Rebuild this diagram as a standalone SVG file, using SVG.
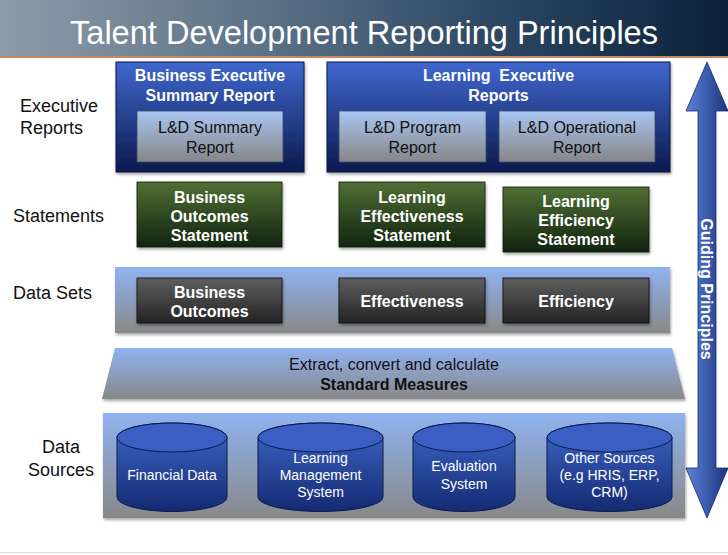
<svg xmlns="http://www.w3.org/2000/svg" width="728" height="555" viewBox="0 0 728 555">
<defs>
<linearGradient id="titleGrad" x1="0" y1="0" x2="1" y2="0">
<stop offset="0" stop-color="#8e9ca8"/><stop offset="0.35" stop-color="#5d7388"/><stop offset="0.7" stop-color="#2a4561"/><stop offset="1" stop-color="#0b2139"/>
</linearGradient>
<linearGradient id="execGrad" x1="0" y1="0" x2="0" y2="1">
<stop offset="0" stop-color="#3f67cd"/><stop offset="1" stop-color="#0c1a4e"/>
</linearGradient>
<linearGradient id="reportGrad" x1="0" y1="0" x2="0" y2="1">
<stop offset="0" stop-color="#aac5f3"/><stop offset="1" stop-color="#868686"/>
</linearGradient>
<linearGradient id="stmtGrad" x1="0" y1="0" x2="0" y2="1">
<stop offset="0" stop-color="#4f6f34"/><stop offset="1" stop-color="#132410"/>
</linearGradient>
<linearGradient id="bandGrad" x1="0" y1="0" x2="0" y2="1">
<stop offset="0" stop-color="#90b3f1"/><stop offset="1" stop-color="#888888"/>
</linearGradient>
<linearGradient id="dsGrad" x1="0" y1="0" x2="0" y2="1">
<stop offset="0" stop-color="#5f5f5f"/><stop offset="1" stop-color="#232323"/>
</linearGradient>
<linearGradient id="cylGrad" x1="0" y1="0" x2="0" y2="1">
<stop offset="0" stop-color="#3f67c8"/><stop offset="1" stop-color="#142a72"/>
</linearGradient>
<linearGradient id="arrowGrad" x1="0" y1="0" x2="1" y2="0">
<stop offset="0" stop-color="#5c82d9"/><stop offset="1" stop-color="#1a347f"/>
</linearGradient>
<filter id="shadow" x="-5%" y="-5%" width="115%" height="125%">
<feDropShadow dx="1" dy="2" stdDeviation="1.5" flood-color="#000" flood-opacity="0.35"/>
</filter>
<style>
text { font-family: "Liberation Sans", Arial, sans-serif; }
.lbl { font-size: 18px; fill: #111; }
.wb { font-size: 16px; font-weight: bold; fill: #fff; text-anchor: middle; }
.dk { font-size: 16px; fill: #111; text-anchor: middle; }
.dkb { font-size: 16px; font-weight: bold; fill: #111; text-anchor: middle; }
.cyl-t { font-size: 14px; fill: #fff; text-anchor: middle; }
.exec { fill: url(#execGrad); stroke: #0a1540; stroke-width: 1; filter: url(#shadow); }
.report { fill: url(#reportGrad); stroke: #3a4a6a; stroke-width: 0.8; }
.stmt { fill: url(#stmtGrad); stroke: #0f1a0a; stroke-width: 0.8; filter: url(#shadow); }
.band { fill: url(#bandGrad); filter: url(#shadow); }
.ds { fill: url(#dsGrad); stroke: #111; stroke-width: 0.8; filter: url(#shadow); }
.cyl { fill: url(#cylGrad); stroke: #0a1a4a; stroke-width: 1; }
.cyltop { fill: #3a5ec2; stroke: #0a1a4a; stroke-width: 1; }
</style>
</defs>

<rect x="0" y="0" width="728" height="555" fill="#ffffff"/>

<g id="title">
<rect x="0" y="0" width="728" height="56" fill="url(#titleGrad)"/>
<rect x="0" y="56" width="728" height="2" fill="#c8875c"/>
<text x="364" y="44" text-anchor="middle" font-size="33" fill="#ffffff" textLength="588" lengthAdjust="spacingAndGlyphs">Talent Development Reporting Principles</text>
</g>

<g id="row-labels">
<text class="lbl" x="20" y="112">Executive</text>
<text class="lbl" x="20" y="134">Reports</text>
<text class="lbl" x="13" y="222">Statements</text>
<text class="lbl" x="13" y="299">Data Sets</text>
<text class="lbl" x="61" y="453" text-anchor="middle">Data</text>
<text class="lbl" x="61" y="476" text-anchor="middle">Sources</text>
</g>

<g id="business-executive-summary">
<rect class="exec" x="116" y="62" width="188" height="110"/>
<text class="wb" x="210" y="81">Business Executive</text>
<text class="wb" x="210" y="101">Summary Report</text>
</g>
<g id="ld-summary-report">
<rect class="report" x="137" y="111" width="146" height="51"/>
<text class="dk" x="210" y="133">L&amp;D Summary</text>
<text class="dk" x="210" y="153">Report</text>
</g>

<g id="learning-executive-reports">
<rect class="exec" x="327" y="62" width="343" height="110"/>
<text class="wb" x="498.5" y="81" xml:space="preserve">Learning  Executive</text>
<text class="wb" x="498.5" y="101">Reports</text>
</g>
<g id="ld-program-report">
<rect class="report" x="339" y="111" width="147" height="51"/>
<text class="dk" x="412.5" y="133">L&amp;D Program</text>
<text class="dk" x="412.5" y="153">Report</text>
</g>
<g id="ld-operational-report">
<rect class="report" x="499" y="111" width="156" height="51"/>
<text class="dk" x="577" y="133">L&amp;D Operational</text>
<text class="dk" x="577" y="153">Report</text>
</g>

<g id="business-outcomes-statement">
<rect class="stmt" x="137" y="182" width="145" height="65"/>
<text class="wb" x="209.5" y="203">Business</text>
<text class="wb" x="209.5" y="222">Outcomes</text>
<text class="wb" x="209.5" y="241">Statement</text>
</g>
<g id="learning-effectiveness-statement">
<rect class="stmt" x="339" y="182" width="146" height="65"/>
<text class="wb" x="412" y="203">Learning</text>
<text class="wb" x="412" y="222">Effectiveness</text>
<text class="wb" x="412" y="241">Statement</text>
</g>
<g id="learning-efficiency-statement">
<rect class="stmt" x="503" y="187" width="146" height="65"/>
<text class="wb" x="576" y="207">Learning</text>
<text class="wb" x="576" y="226">Efficiency</text>
<text class="wb" x="576" y="245">Statement</text>
</g>

<g id="data-sets">
<rect class="band" x="115" y="267" width="555" height="66"/>
</g>
<g id="business-outcomes">
<rect class="ds" x="137" y="278" width="145" height="45"/>
<text class="wb" x="209.5" y="298">Business</text>
<text class="wb" x="209.5" y="317">Outcomes</text>
</g>
<g id="effectiveness">
<rect class="ds" x="339" y="278" width="146" height="45"/>
<text class="wb" x="412" y="307">Effectiveness</text>
</g>
<g id="efficiency">
<rect class="ds" x="503" y="278" width="146" height="45"/>
<text class="wb" x="576" y="307">Efficiency</text>
</g>

<g id="standard-measures">
<polygon class="band" points="115,348 672,348 685,399 102,399"/>
<text class="dk" x="394" y="370">Extract, convert and calculate</text>
<text class="dkb" x="394" y="390">Standard Measures</text>
</g>

<g id="data-sources">
<rect class="band" x="103" y="413" width="582" height="105"/>
</g>
<g id="financial-data">
<path class="cyl" d="M117,437.5 A55,14.5 0 0 1 227,437.5 L227,497 A55,14.5 0 0 1 117,497 Z"/>
<ellipse class="cyltop" cx="172" cy="437.5" rx="55" ry="14.5"/>
<text class="cyl-t" x="172" y="480">Financial Data</text>
</g>
<g id="learning-management-system">
<path class="cyl" d="M258,437.5 A62.5,14.5 0 0 1 383,437.5 L383,497 A62.5,14.5 0 0 1 258,497 Z"/>
<ellipse class="cyltop" cx="320.5" cy="437.5" rx="62.5" ry="14.5"/>
<text class="cyl-t" x="320.5" y="463">Learning</text>
<text class="cyl-t" x="320.5" y="480">Management</text>
<text class="cyl-t" x="320.5" y="497">System</text>
</g>
<g id="evaluation-system">
<path class="cyl" d="M413,437.5 A51,14.5 0 0 1 515,437.5 L515,497 A51,14.5 0 0 1 413,497 Z"/>
<ellipse class="cyltop" cx="464" cy="437.5" rx="51" ry="14.5"/>
<text class="cyl-t" x="464" y="471">Evaluation</text>
<text class="cyl-t" x="464" y="489">System</text>
</g>
<g id="other-sources">
<path class="cyl" d="M547,437.5 A62.5,14.5 0 0 1 672,437.5 L672,497 A62.5,14.5 0 0 1 547,497 Z"/>
<ellipse class="cyltop" cx="609.5" cy="437.5" rx="62.5" ry="14.5"/>
<text class="cyl-t" x="609.5" y="463">Other Sources</text>
<text class="cyl-t" x="609.5" y="480">(e.g HRIS, ERP,</text>
<text class="cyl-t" x="609.5" y="497">CRM)</text>
</g>

<g id="guiding-principles">
<polygon points="707,62 728,111 716,111 716,468 728,468 707,518 686,468 698,468 698,111 686,111" fill="url(#arrowGrad)" stroke="#15296a" stroke-width="0.8"/>
<text class="wb" transform="translate(701,289) rotate(90)">Guiding Principles</text>
</g>

<g id="connectors"></g>

<line x1="0" y1="552.5" x2="728" y2="552.5" stroke="#dcdcdc" stroke-width="1"/>
</svg>
